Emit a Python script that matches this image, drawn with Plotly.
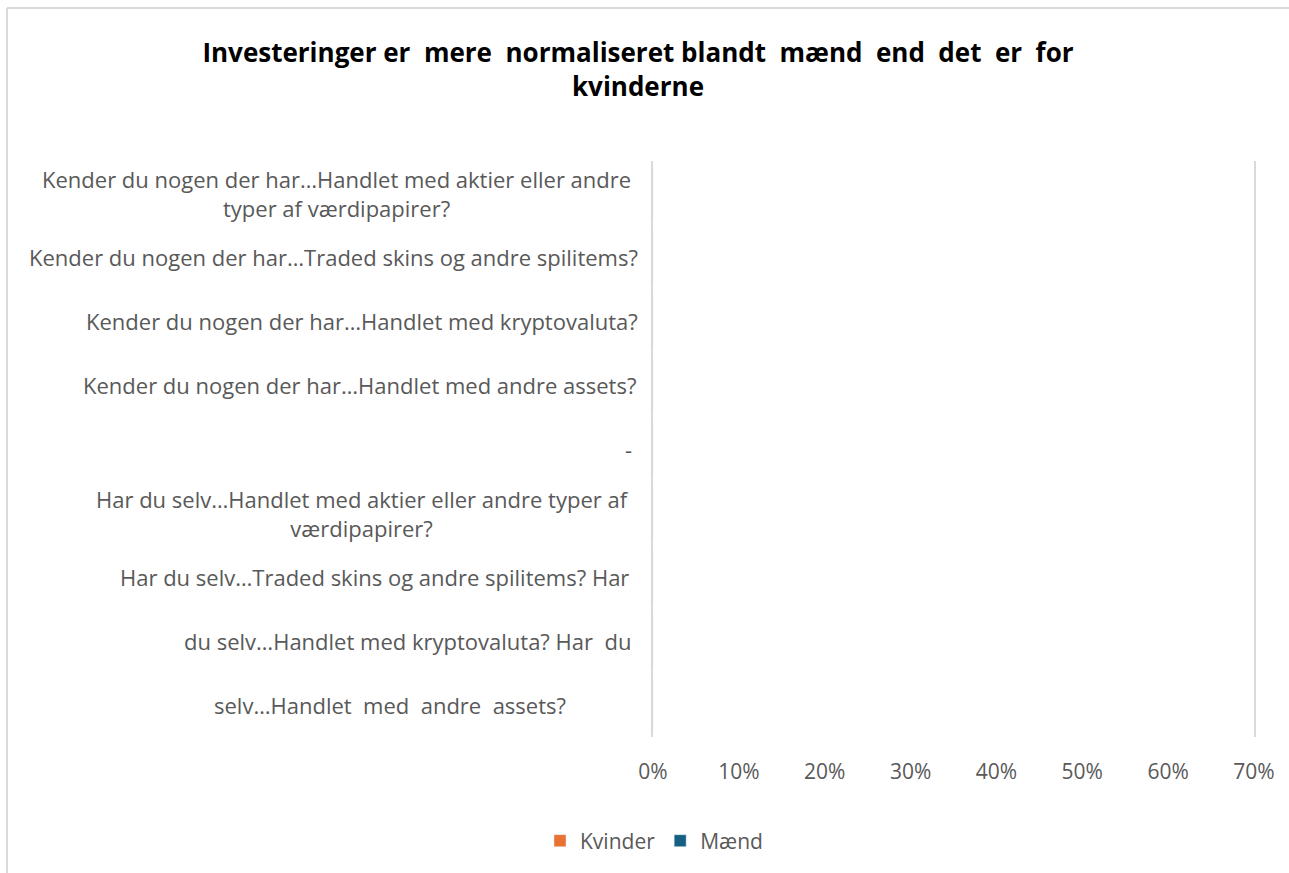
import plotly.graph_objects as go

# ---------------- data ----------------
categories = [
    "Kender du nogen der har…Handlet med aktier eller andre<br>typer af værdipapirer?",
    "Kender du nogen der har…Traded skins og andre spilitems?",
    "Kender du nogen der har…Handlet med kryptovaluta?",
    "Kender du nogen der har…Handlet med andre assets?",
    "-",
    "Har du selv…Handlet med aktier eller andre typer af<br>værdipapirer?",
    "Har du selv…Traded skins og andre spilitems? Har",
    "du selv…Handlet med kryptovaluta? Har\u00a0 du",
    "selv…Handlet\u00a0 med\u00a0 andre\u00a0 assets?",
]
kvinder = [0, 0, 0, 0, 0, 0, 0, 0, 0]
maend = [0, 0, 0, 0, 0, 0, 0, 0, 0]
x_tickvals = [0, 0.1, 0.2, 0.3, 0.4, 0.5, 0.6, 0.7]
title_text = ("Investeringer er\u00a0 mere\u00a0 normaliseret blandt\u00a0 mænd\u00a0 end\u00a0 det\u00a0 er\u00a0 for"
              "<br>kvinderne")

# ---------------- layout geometry (pixels) ----------------
W, H = 1289, 873
L, R, T, B = 653, 1254, 161, 737
PW, PH = R - L, B - T

def px_x(px):
    return (px - L) / PW

def px_y(py):
    return (B - py) / PH

FONT = "Open Sans"
GREY = "#595959"

fig = go.Figure()
fig.add_trace(go.Bar(y=categories, x=kvinder, orientation="h", name="Kvinder",
                     marker_color="#E97132"))
fig.add_trace(go.Bar(y=categories, x=maend, orientation="h", name="Mænd",
                     marker_color="#156082"))

# label placement (pixel anchor, xanchor)
label_pos = [
    (336, "center"), (640, "right"), (640, "right"), (638, "right"),
    (628, "center"), (362, "center"), (631, "right"), (633, "right"), (212, "left"),
]
annotations = []
for cat, (px, anc) in zip(categories, label_pos):
    annotations.append(dict(
        x=px_x(px), xref="paper", y=cat, yref="y", text=cat, showarrow=False,
        xanchor=anc, yanchor="middle", align="center",
        font=dict(family=FONT, size=22, color=GREY),
    ))

shapes = [
    dict(type="line", xref="paper", yref="paper", x0=px_x(7), x1=px_x(1295),
         y0=px_y(8), y1=px_y(8), line=dict(color="#d9d9d9", width=2)),
    dict(type="line", xref="paper", yref="paper", x0=px_x(7), x1=px_x(7),
         y0=px_y(8), y1=px_y(880), line=dict(color="#d9d9d9", width=2)),
]

fig.update_layout(
    width=W, height=H,
    margin=dict(l=L, r=W - R, t=T, b=H - B, autoexpand=False),
    paper_bgcolor="white", plot_bgcolor="white",
    barmode="group",
    title=dict(text=title_text, x=638 / W, xanchor="center", xref="container",
               y=1 - 62 / H, yanchor="middle", yref="container",
               font=dict(family=FONT, size=26, color="#000000", weight="bold")),
    font=dict(family=FONT, color=GREY),
    xaxis=dict(range=[0, 0.7], tickvals=x_tickvals, tickformat=".0%",
               showgrid=False, zeroline=False, showline=False,
               ticks="", ticklabelstandoff=20,
               tickfont=dict(family=FONT, size=21, color=GREY), fixedrange=True),
    yaxis=dict(categoryorder="array", categoryarray=categories, autorange="reversed",
               showticklabels=False, showgrid=False, zeroline=False,
               showline=True, mirror=True, linecolor="#d9d9d9", linewidth=2,
               ticks=""),
    legend=dict(orientation="h", xref="container", yref="container",
                x=654 / W, xanchor="center", y=(H - 841) / H, yanchor="middle",
                font=dict(family=FONT, size=21, color=GREY),
                itemwidth=30, traceorder="normal"),
    annotations=annotations,
    shapes=shapes,
)

fig.write_html("out.html")
